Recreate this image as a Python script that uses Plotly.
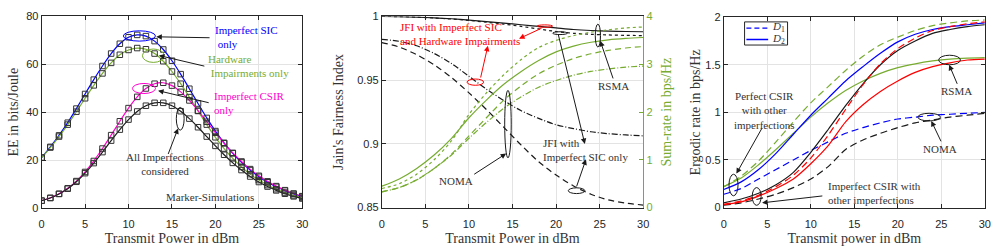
import plotly.graph_objects as go

# ---------------- Data ----------------
# Panel 1: EE vs transmit power
p1_x = list(range(31))
ee_imperfect_sic = [21, 25.5, 30.3, 35.6, 41.5, 47.6, 53.6, 59.3, 64.5, 68.6, 71.3, 72.3, 71.8, 69.7, 66.2,
                    61.5, 55.9, 49.8, 43.6, 37.6, 32.1, 27.2, 22.8, 19.0, 15.8, 13.0, 10.7, 8.8, 7.2, 5.8, 4.7]
ee_hardware = [21, 25.2, 29.8, 34.8, 40.2, 45.8, 51.2, 56.2, 60.6, 64.0, 66.0, 66.8, 66.3, 64.5, 61.3,
               57.0, 51.9, 46.3, 40.5, 34.8, 29.5, 24.8, 20.7, 17.1, 14.1, 11.6, 9.5, 7.8, 6.4, 5.2, 4.3]
ee_imperfect_csir = [3.0, 4.2, 5.9, 8.2, 11.2, 15.0, 19.6, 24.8, 30.4, 36.2, 41.7, 46.4, 49.9, 51.9, 52.3,
                     51.1, 48.5, 44.9, 40.6, 36.0, 31.4, 27.0, 23.0, 19.4, 16.2, 13.4, 11.1, 9.1, 7.4, 6.0, 4.9]
ee_all = [3.0, 4.1, 5.8, 8.0, 10.9, 14.5, 18.7, 23.3, 28.1, 32.7, 36.9, 40.3, 42.7, 43.9, 43.9,
          42.7, 40.4, 37.3, 33.7, 29.8, 25.9, 22.2, 18.8, 15.8, 13.1, 10.8, 8.9, 7.3, 5.9, 4.8, 3.9]

# Panel 2: JFI (left) and sum-rate (right)
p2_x = [0, 2, 4, 6, 8, 10, 12, 14, 16, 18, 20, 22, 24, 26, 28, 30]
jfi_rsma_sic = [1.0, 0.9999, 0.9995, 0.9989, 0.9982, 0.9972, 0.996, 0.9948, 0.9935, 0.9922, 0.991, 0.9898, 0.989, 0.9885, 0.9882, 0.988]
jfi_rsma_hw = [1.0, 0.9999, 0.9995, 0.9988, 0.998, 0.9969, 0.9955, 0.994, 0.9922, 0.9902, 0.9882, 0.9868, 0.986, 0.9855, 0.9852, 0.985]
jfi_noma_hw = [0.982, 0.9805, 0.977, 0.971, 0.963, 0.953, 0.943, 0.934, 0.926, 0.92, 0.915, 0.912, 0.9095, 0.908, 0.907, 0.9063]
jfi_noma_sic = [0.9795, 0.976, 0.97, 0.962, 0.952, 0.94, 0.927, 0.913, 0.899, 0.886, 0.8755, 0.867, 0.8605, 0.856, 0.8535, 0.852]
sr_rsma_sic = [0.45, 0.6, 0.82, 1.1, 1.45, 1.88, 2.25, 2.58, 2.85, 3.08, 3.26, 3.38, 3.46, 3.51, 3.54, 3.56]
sr_rsma_hw = [0.4, 0.5, 0.7, 1.0, 1.4, 1.95, 2.4, 2.78, 3.1, 3.35, 3.5, 3.6, 3.67, 3.72, 3.76, 3.78]
sr_noma_sic = [0.33, 0.42, 0.58, 0.82, 1.12, 1.5, 1.88, 2.25, 2.55, 2.8, 2.98, 3.12, 3.22, 3.29, 3.34, 3.37]
sr_noma_hw = [0.33, 0.42, 0.58, 0.82, 1.1, 1.45, 1.78, 2.08, 2.32, 2.52, 2.66, 2.77, 2.85, 2.9, 2.94, 2.96]

# Panel 3: ergodic rate
p3_x = [0, 2, 4, 6, 8, 10, 12, 14, 16, 18, 20, 22, 24, 26, 28, 30]
er_green_d1 = [0.22, 0.33, 0.49, 0.69, 0.9, 1.1, 1.27, 1.44, 1.59, 1.71, 1.79, 1.86, 1.91, 1.94, 1.96, 1.97]
er_blue_d2 = [0.19, 0.27, 0.4, 0.57, 0.77, 0.97, 1.15, 1.33, 1.48, 1.62, 1.74, 1.82, 1.87, 1.9, 1.92, 1.94]
er_green_d2 = [0.22, 0.31, 0.45, 0.61, 0.78, 0.95, 1.1, 1.23, 1.33, 1.41, 1.47, 1.51, 1.54, 1.56, 1.57, 1.575]
er_blue_d1 = [0.14, 0.2, 0.3, 0.4, 0.5, 0.6, 0.69, 0.78, 0.84, 0.89, 0.93, 0.95, 0.97, 0.98, 0.99, 1.0]
er_black_d2 = [0.05, 0.09, 0.15, 0.24, 0.37, 0.58, 0.82, 1.07, 1.3, 1.5, 1.65, 1.75, 1.83, 1.87, 1.9, 1.92]
er_red_d1 = [0.035, 0.07, 0.13, 0.22, 0.34, 0.52, 0.76, 1.03, 1.29, 1.51, 1.67, 1.78, 1.86, 1.9, 1.93, 1.95]
er_red_d2 = [0.03, 0.06, 0.12, 0.2, 0.3, 0.46, 0.65, 0.9, 1.08, 1.22, 1.33, 1.42, 1.48, 1.52, 1.55, 1.56]
er_black_d1 = [0.025, 0.05, 0.09, 0.14, 0.21, 0.3, 0.43, 0.61, 0.71, 0.78, 0.84, 0.89, 0.92, 0.95, 0.97, 0.99]

x_ticks = [0, 5, 10, 15, 20, 25, 30]

# ---------------- Style ----------------
GREEN = '#77AC30'
BLUE = '#0000FF'
MAG = '#FF00CC'
RED = '#FF0000'
BLK = '#1A1A1A'
AX = '#262626'
TXT = '#333333'
GRID = '#E3E3E3'
SERIF = 'Liberation Serif'
SANS = 'Liberation Sans'
LW = 1.2

W, H = 1003, 251
def dx(a, b):
    return [a / W, b / W]
def dy(top, bot):
    return [(H - bot) / H, (H - top) / H]

fig = go.Figure()

def line(x, y, color, dash='solid', xa='x', ya='y', width=LW):
    fig.add_trace(go.Scatter(x=x, y=y, mode='lines', xaxis=xa, yaxis=ya,
                             line=dict(color=color, dash=dash, width=width, shape='spline', smoothing=0.8),
                             showlegend=False, hoverinfo='skip'))

# Panel 1
for ys, c in [(ee_imperfect_sic, BLUE), (ee_hardware, GREEN), (ee_imperfect_csir, MAG), (ee_all, BLK)]:
    line(p1_x, ys, c)
for ys in [ee_imperfect_sic, ee_hardware, ee_imperfect_csir, ee_all]:
    fig.add_trace(go.Scatter(x=p1_x, y=ys, mode='markers', xaxis='x', yaxis='y',
                             marker=dict(symbol='square-open', size=5.5, color='#333333', line=dict(width=1)),
                             showlegend=False, hoverinfo='skip'))

# Panel 2
line(p2_x, sr_rsma_hw, GREEN, 'dot', 'x2', 'y3')
line(p2_x, sr_rsma_sic, GREEN, 'solid', 'x2', 'y3')
line(p2_x, sr_noma_sic, GREEN, '6px,4px', 'x2', 'y3')
line(p2_x, sr_noma_hw, GREEN, '6px,2px,1px,2px', 'x2', 'y3')
line(p2_x, jfi_rsma_sic, BLK, 'solid', 'x2', 'y2')
line(p2_x, jfi_rsma_hw, BLK, 'dot', 'x2', 'y2')
line(p2_x, jfi_noma_hw, BLK, '6px,2px,1px,2px', 'x2', 'y2')
line(p2_x, jfi_noma_sic, BLK, '6px,4px', 'x2', 'y2')

# Panel 3
D = '7px,4px'
line(p3_x, er_green_d1, GREEN, D, 'x3', 'y4')
line(p3_x, er_green_d2, GREEN, 'solid', 'x3', 'y4')
line(p3_x, er_blue_d1, BLUE, D, 'x3', 'y4')
line(p3_x, er_blue_d2, BLUE, 'solid', 'x3', 'y4')
line(p3_x, er_black_d1, BLK, D, 'x3', 'y4')
line(p3_x, er_black_d2, BLK, 'solid', 'x3', 'y4')
line(p3_x, er_red_d2, RED, 'solid', 'x3', 'y4')
line(p3_x, er_red_d1, RED, D, 'x3', 'y4')

# ---------------- Axes ----------------
tickfont = dict(family=SANS, size=11, color=AX)
titlefont = dict(family=SERIF, size=14, color=TXT)

def xaxis(dom, anchor, title):
    return dict(domain=dom, anchor=anchor, range=[0, 30], tickvals=x_ticks, showgrid=True, gridcolor=GRID,
                gridwidth=1, zeroline=False, showline=True, linecolor=AX, linewidth=1, mirror='ticks',
                ticks='inside', ticklen=4, tickcolor=AX, tickfont=tickfont, ticklabelstandoff=6,
                title=dict(text=title, font=titlefont, standoff=4))

layout = dict(
    width=W, height=H, margin=dict(l=0, r=0, t=0, b=0), plot_bgcolor='white', paper_bgcolor='white',
    showlegend=False,
    xaxis=xaxis(dx(39, 302), 'y', 'Transmit Power in dBm'),
    yaxis=dict(domain=dy(11, 212), anchor='x', range=[0, 80], tickvals=[0, 20, 40, 60, 80], showgrid=True,
               gridcolor=GRID, zeroline=False, showline=True, linecolor=AX, linewidth=1, mirror='ticks',
               ticks='inside', ticklen=4, tickcolor=AX, tickfont=tickfont,
               title=dict(text='EE in bits/Joule', font=titlefont, standoff=4)),
    xaxis2=xaxis(dx(382.3, 646), 'y2', 'Transmit Power in dBm'),
    yaxis2=dict(domain=dy(11, 211.7), anchor='x2', range=[0.85, 1.0], tickvals=[0.85, 0.9, 0.95, 1],
                ticktext=['0.85', '0.9', '0.95', '1'], showgrid=True, gridcolor=GRID, zeroline=False,
                showline=True, linecolor=AX, linewidth=1, mirror=False, ticks='inside', ticklen=4,
                tickcolor=AX, tickfont=tickfont,
                title=dict(text="Jain's Fairness Index", font=titlefont, standoff=10)),
    yaxis3=dict(overlaying='y2', anchor='x2', side='right', range=[0, 4], tickvals=[0, 1, 2, 3, 4],
                showgrid=False, zeroline=False, showline=True, linecolor=GREEN, linewidth=1, ticks='inside',
                ticklen=4, tickcolor=GREEN, tickfont=dict(family=SANS, size=11, color=GREEN),
                title=dict(text='Sum-rate in bps/Hz', font=dict(family=SERIF, size=14, color=GREEN), standoff=9)),
    xaxis3=xaxis(dx(727.3, 990.7), 'y4', 'Transmit power in dBm'),
    yaxis4=dict(domain=dy(11.7, 211.7), anchor='x3', range=[0, 2], tickvals=[0, 0.5, 1, 1.5, 2],
                ticktext=['0', '0.5', '1', '1.5', '2'], showgrid=True, gridcolor=GRID, zeroline=False,
                showline=True, linecolor=AX, linewidth=1, mirror='ticks', ticks='inside', ticklen=4,
                tickcolor=AX, tickfont=tickfont,
                title=dict(text='Ergodic rate in bps/Hz', font=titlefont, standoff=1)),
)
fig.update_layout(**layout)

# ---------------- Annotations / shapes ----------------
AFONT = 11
shapes = []
annots = []

def ellipse(xr, yr, x0, x1, y0, y1, color, width=1):
    shapes.append(dict(type='circle', xref=xr, yref=yr, x0=x0, x1=x1, y0=y0, y1=y1,
                       line=dict(color=color, width=width)))

def arrow(xr, yr, tail, head, color=BLK):
    annots.append(dict(xref=xr, yref=yr, axref=xr, ayref=yr, x=head[0], y=head[1], ax=tail[0], ay=tail[1],
                       text='', showarrow=True, arrowhead=2, arrowsize=1.1, arrowwidth=1, arrowcolor=color))

def text(xr, yr, x, y, s, color=TXT, xanchor='left', align='left', size=AFONT):
    annots.append(dict(xref=xr, yref=yr, x=x, y=y, text=s, showarrow=False, xanchor=xanchor, yanchor='middle',
                       align=align, font=dict(family=SERIF, size=size, color=color)))

# Panel 1
ellipse('x', 'y', 9.4, 13.1, 69.7, 74.0, BLUE)
ellipse('x', 'y', 11.6, 14.1, 60.8, 66.4, GREEN)
ellipse('x', 'y', 10.45, 13.1, 47.8, 52.0, MAG)
ellipse('x', 'y', 15.5, 16.4, 32.5, 42.0, BLK)
arrow('x', 'y', (19.5, 71.1), (13.2, 71.5))
arrow('x', 'y', (18.9, 59.1), (13.5, 63.7))
arrow('x', 'y', (19.4, 43.8), (13.4, 49.0))
arrow('x', 'y', (14.5, 21.9), (15.7, 33.2))
text('x', 'y', 19.7, 71.3, 'Imperfect SIC<br> only', BLUE)
text('x', 'y', 18.9, 59.3, 'Hardware<br> Impairments only', GREEN)
text('x', 'y', 19.6, 44.0, 'Imperfect CSIR<br>only', MAG)
text('x', 'y', 14.2, 18.4, 'All Imperfections<br>considered', TXT, 'center', 'center')
text('x', 'y', 19.4, 4.7, 'Marker-Simulations', TXT, 'center', 'center')

# Panel 2
ellipse('x2', 'y2', 9.78, 11.68, 0.946, 0.9509, RED)
ellipse('x2', 'y2', 17.8, 19.6, 0.9915, 0.9934, RED)
arrow('x2', 'y2', (11.3, 0.9509), (12.17, 0.977), RED)
arrow('x2', 'y2', (18.5, 0.9913), (15.75, 0.9826), RED)
text('x2', 'y2', 1.82, 0.9859, 'JFI with Imperfect SIC<br>and Hardware Impairments', RED)
ellipse('x2', 'y2', 19.6, 21.3, 0.9858, 0.988, BLK)
ellipse('x2', 'y2', 21.4, 23.3, 0.861, 0.8655, BLK)
arrow('x2', 'y2', (20.2, 0.9873), (23.3, 0.8999))
arrow('x2', 'y2', (22.3, 0.8655), (23.43, 0.8879))
text('x2', 'y2', 18.3, 0.8954, 'JFI with<br>Imperfect SIC only', TXT)
ellipse('x2', 'y2', 24.5, 25.1, 0.976, 0.994, BLK)
arrow('x2', 'y2', (26.6, 0.9502), (25.07, 0.9808))
text('x2', 'y2', 26.6, 0.9452, 'RSMA', TXT, 'center', 'center')
ellipse('x2', 'y2', 14.1, 14.85, 0.889, 0.942, BLK)
arrow('x2', 'y2', (10.43, 0.8754), (14.27, 0.8924))
text('x2', 'y2', 8.55, 0.8712, 'NOMA', TXT, 'center', 'center')

# Panel 3 legend (drawn box)
shapes.append(dict(type='rect', xref='x3', yref='y4', x0=2.39, x1=7.33, y0=1.707, y1=1.95,
                   line=dict(color=AX, width=1), fillcolor='white', layer='above'))
shapes.append(dict(type='line', xref='x3', yref='y4', x0=2.6, x1=5.1, y0=1.885, y1=1.885,
                   line=dict(color=BLUE, width=1.4, dash='5px,3px')))
shapes.append(dict(type='line', xref='x3', yref='y4', x0=2.6, x1=5.1, y0=1.765, y1=1.765,
                   line=dict(color=BLUE, width=1.4)))
text('x3', 'y4', 5.3, 1.892, '<i>D</i><sub>1</sub>', TXT, size=11)
text('x3', 'y4', 5.3, 1.768, '<i>D</i><sub>2</sub>', TXT, size=11)

ellipse('x3', 'y4', 0.6, 1.64, 0.124, 0.35, BLK)
ellipse('x3', 'y4', 3.27, 4.29, 0.024, 0.21, BLK)
arrow('x3', 'y4', (4.49, 0.85), (1.45, 0.357))
arrow('x3', 'y4', (11.5, 0.124), (4.41, 0.05))
text('x3', 'y4', 4.67, 1.02, 'Perfect CSIR<br>with other<br>imperfections', TXT, 'center', 'center')
text('x3', 'y4', 11.8, 0.15, 'Imperfect CSIR with<br>other imperfections', TXT)
ellipse('x3', 'y4', 24.7, 27.2, 1.5, 1.6, BLK)
arrow('x3', 'y4', (26.9, 1.284), (25.9, 1.5))
text('x3', 'y4', 26.8, 1.22, 'RSMA', TXT, 'center', 'center')
ellipse('x3', 'y4', 22.3, 24.9, 0.91, 0.99, BLK)
arrow('x3', 'y4', (25.05, 0.68), (23.85, 0.91))
text('x3', 'y4', 24.8, 0.61, 'NOMA', TXT, 'center', 'center')

fig.update_layout(shapes=shapes, annotations=annots)
fig.write_html('out.html')
